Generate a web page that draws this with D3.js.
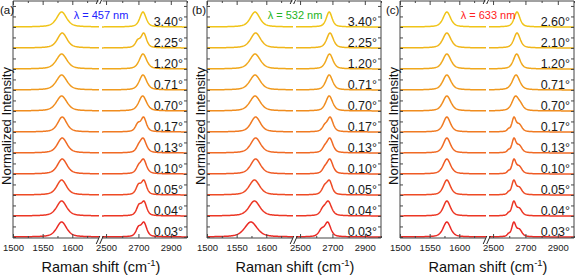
<!DOCTYPE html>
<html><head><meta charset="utf-8">
<script src="https://cdn.jsdelivr.net/npm/d3@7"></script>
<style>
body{margin:0;background:#fff}
svg{display:block}
text{font-family:"Liberation Sans",Arial,Helvetica,sans-serif}
</style>
</head><body>
<svg id="c" width="575" height="276"></svg>
<script>
// ---------- data ----------
const panelLabels = ["(a)", "(b)", "(c)"];
const lambdaLabels = ["λ = 457 nm", "λ = 532 nm", "λ = 633 nm"];
const lambdaColors = ["#2222ff", "#22b422", "#ff2222"];

const anglesA = ["3.40°","2.25°","1.20°","0.71°","0.70°","0.17°","0.13°","0.10°","0.05°","0.04°","0.03°"];
const anglesB = ["3.40°","2.25°","1.20°","0.71°","0.70°","0.17°","0.13°","0.10°","0.05°","0.04°","0.03°"];
const anglesC = ["2.60°","2.10°","1.20°","0.71°","0.70°","0.17°","0.13°","0.10°","0.05°","0.04°","0.03°"];

const rowColors = ["#f0c418","#f0b61a","#f0a81c","#f09a1e","#f08c1e","#f07a22","#f06a24","#ef5a24","#ee4a24","#ec3624","#ea2a24"];

const xTicksLeft = [1500, 1550, 1600];
const xMinorLeft = [1525, 1575, 1625];
const xTicksRight = [2500, 2700, 2900];
const xMinorRight = [2600, 2800, 3000];

// G band per spectrum: [centre cm-1, FWHM cm-1]
const gBandA = [[1582,20],[1583,19],[1582,21],[1582,21],[1582,21],[1583,18],[1583,19],[1583,19],[1582,19],[1582,20],[1582,20]];
const gBandB = [[1581,19],[1582,20],[1581,21],[1581,21],[1581,21],[1582,19],[1582,20],[1582,20],[1580,21],[1580,22],[1574,25]];
const gBandC = [[1579,15],[1579,16],[1579,16],[1579,16],[1579,16],[1579,14],[1579,14],[1579,15],[1579,14],[1579,14],[1579,15]];

// 2D band per spectrum: components [centre cm-1, FWHM cm-1, relative amplitude]
const dBandA = [
  [[2728,46,1]],
  [[2733,40,1],[2696,36,0.45]],
  [[2728,54,1]],
  [[2728,54,1]],
  [[2726,56,1]],
  [[2732,40,1],[2696,36,0.5]],
  [[2729,46,1],[2700,36,0.3]],
  [[2731,44,1],[2700,36,0.4]],
  [[2734,38,1],[2700,36,0.65]],
  [[2735,38,1],[2703,36,0.7]],
  [[2734,40,1],[2700,36,0.6]]
];
const dBandB = [
  [[2680,42,1]],
  [[2685,48,1]],
  [[2682,50,1]],
  [[2680,50,1]],
  [[2680,50,1]],
  [[2686,42,1],[2652,36,0.35]],
  [[2684,44,1],[2652,36,0.3]],
  [[2684,44,1],[2652,36,0.3]],
  [[2682,38,1],[2652,40,0.6]],
  [[2674,48,1],[2640,36,0.35]],
  [[2671,44,1],[2632,40,0.45]]
];
const dBandC = [
  [[2648,42,1]],
  [[2648,46,1]],
  [[2646,48,1]],
  [[2642,54,1]],
  [[2638,50,1],[2670,42,0.3]],
  [[2629,30,1],[2662,38,0.5],[2595,18,0.15]],
  [[2629,30,1],[2662,38,0.5],[2595,18,0.15]],
  [[2629,30,1],[2662,38,0.5],[2595,18,0.15]],
  [[2628,30,1],[2662,38,0.5],[2595,18,0.15]],
  [[2628,30,1],[2662,38,0.5],[2595,18,0.15]],
  [[2628,30,1],[2662,38,0.5],[2595,18,0.15]]
];

// ---------- layout ----------
const panelX = [13, 207, 400];
const panelW = 174;
const yTop = 1, yBot = 238;
const rowStep = 1.4;
const frameColor = "#444";

const svg = d3.select("#c");
const panels = [
  {label: panelLabels[0], lam: lambdaLabels[0], lc: lambdaColors[0], angles: anglesA, g: gBandA, d: dBandA, lx: 0},
  {label: panelLabels[1], lam: lambdaLabels[1], lc: lambdaColors[1], angles: anglesB, g: gBandB, d: dBandB, lx: 192},
  {label: panelLabels[2], lam: lambdaLabels[2], lc: lambdaColors[2], angles: anglesC, g: gBandC, d: dBandC, lx: 386}
];

// pseudo-Voigt band shape
const band = (x, q) => {
  const u = (x - q[0]) / (q[1] / 2);
  return q[2] * (0.55 / (1 + u * u) + 0.45 * Math.exp(-Math.LN2 * u * u));
};

panels.forEach((p, i) => {
  const x0 = panelX[i], x1 = x0 + panelW;
  const bx = x0 + 87.5;
  const xL = d3.scaleLinear().domain([1500, 1645]).range([x0, x0 + 86]);
  const xR = d3.scaleLinear().domain([2475, 3000]).range([x0 + 89, x1]);
  const y = d3.scaleLinear().domain([-0.07, 15.73]).range([yBot, yTop]);
  const g = svg.append("g");

  // spectra
  const n = p.angles.length;
  p.angles.forEach((a, k) => {
    const off = (n - 1 - k) * rowStep;
    const segs = [
      {sc: xL, xs: d3.range(1500, 1645.01, 1), peaks: [[p.g[k][0], p.g[k][1], 1]]},
      {sc: xR, xs: d3.range(2475, 3000.01, 3), peaks: p.d[k]}
    ];
    segs.forEach(s => {
      const vals = s.xs.map(x => d3.sum(s.peaks, q => band(x, q)));
      const m = d3.max(vals);
      const line = d3.line().x((d, j) => s.sc(s.xs[j])).y(d => y(off + d / m));
      g.append("path").attr("d", line(vals))
        .attr("fill", "none").attr("stroke", rowColors[k])
        .attr("stroke-width", 1.5).attr("stroke-linejoin", "round");
    });
    g.append("text").attr("x", x0 + 170).attr("y", y(off) - 1)
      .attr("text-anchor", "end").attr("font-size", 12.5).attr("fill", "#1a1a1a").text(a);
  });

  // axes (ticks inward)
  const mk = (gen, ty, vals, size, fmt) => {
    const ax = g.append("g").attr("transform", `translate(0,${ty})`)
      .call(gen.tickValues(vals).tickSize(size).tickPadding(6).tickFormat(fmt));
    ax.select(".domain").remove();
    ax.selectAll("line").attr("stroke", frameColor);
    ax.selectAll("text").attr("font-size", 9.5).attr("fill", "#1a1a1a")
      .style("font-family", '"Liberation Sans",Arial,sans-serif');
    return ax;
  };
  [xL, xR].forEach((sc, si) => {
    const maj = si === 0 ? xTicksLeft : xTicksRight;
    const mnr = si === 0 ? xMinorLeft : xMinorRight;
    mk(d3.axisBottom(sc), yBot, maj, -4, d3.format("d"));
    mk(d3.axisBottom(sc), yBot, mnr, -2, "");
    mk(d3.axisTop(sc), yTop, maj, -4, "");
    mk(d3.axisTop(sc), yTop, mnr, -2, "");
  });
  const yT = d3.range(0, 15.5, 0.7);
  const ly = g.append("g").attr("transform", `translate(${x0},0)`)
    .call(d3.axisLeft(y).tickValues(yT).tickSize(-3).tickFormat(""));
  ly.select(".domain").remove();
  ly.selectAll("line").attr("stroke", frameColor);
  const ry = g.append("g").attr("transform", `translate(${x1},0)`)
    .call(d3.axisRight(y).tickValues(yT).tickSize(-3).tickFormat(""));
  ry.select(".domain").remove();
  ry.selectAll("line").attr("stroke", frameColor);

  // frame with break
  const fr = g.append("g").attr("stroke", frameColor).attr("stroke-width", 1).attr("fill", "none");
  fr.append("line").attr("x1", x0).attr("x2", x0).attr("y1", yTop).attr("y2", yBot);
  fr.append("line").attr("x1", x1).attr("x2", x1).attr("y1", yTop).attr("y2", yBot);
  [yTop, yBot].forEach(yy => {
    fr.append("line").attr("x1", x0).attr("x2", bx - 2).attr("y1", yy).attr("y2", yy);
    fr.append("line").attr("x1", bx + 2).attr("x2", x1).attr("y1", yy).attr("y2", yy);
  });
  const brk = [[yTop + 3, yTop - 5], [yBot + 6, yBot - 2]];
  brk.forEach(([ya, yb]) => {
    [-2.5, 1].forEach(dx => {
      fr.append("line").attr("x1", bx + dx - 1.8).attr("y1", ya)
        .attr("x2", bx + dx + 1.8).attr("y2", yb).attr("stroke", "#222");
    });
  });

  // labels
  g.append("text").attr("x", p.lx).attr("y", 14).attr("font-size", 11.5).attr("fill", "#111").text(p.label);
  g.append("text").attr("x", x0 + 88).attr("y", 19).attr("text-anchor", "middle")
    .attr("font-size", 11).attr("fill", p.lc).text(p.lam);
  g.append("text").attr("transform", `translate(${x0 - 2},126) rotate(-90)`)
    .attr("text-anchor", "middle").attr("font-size", 13).attr("fill", "#111").text("Normalized Intensity");
  const xt = g.append("text").attr("x", x0 + 88).attr("y", 272).attr("text-anchor", "middle")
    .attr("font-size", 14.5).attr("fill", "#111");
  xt.append("tspan").text("Raman shift (cm");
  xt.append("tspan").attr("font-size", 9.5).attr("dy", -6).text("-1");
  xt.append("tspan").attr("dy", 6).text(")");
});
</script>
</body></html>
